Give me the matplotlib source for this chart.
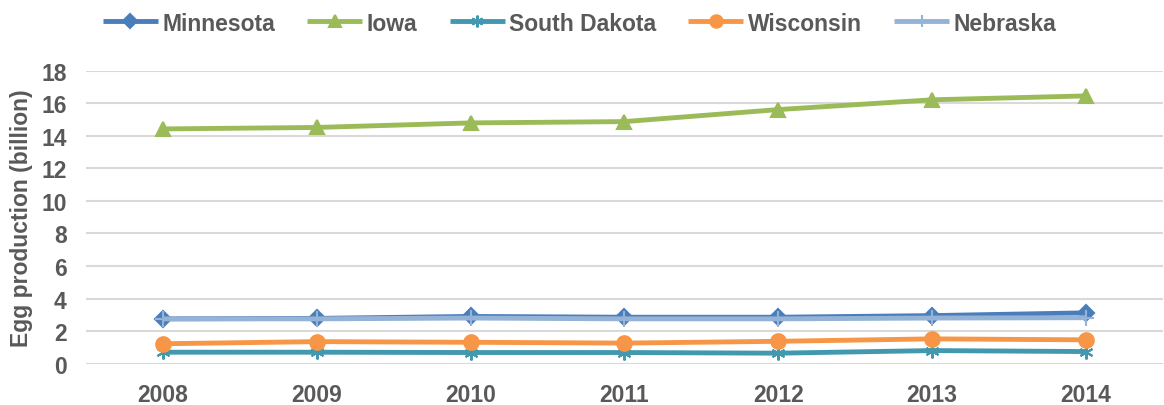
import numpy as np
import matplotlib.pyplot as plt

# data (billion eggs)
years = ["2008", "2009", "2010", "2011", "2012", "2013", "2014"]
minnesota = [2.75, 2.78, 2.90, 2.85, 2.85, 2.95, 3.12]
iowa = [14.43, 14.52, 14.80, 14.88, 15.62, 16.22, 16.46]
south_dakota = [0.70, 0.70, 0.68, 0.68, 0.64, 0.80, 0.74]
wisconsin = [1.22, 1.35, 1.31, 1.26, 1.37, 1.52, 1.46]
nebraska = [2.75, 2.75, 2.80, 2.75, 2.75, 2.80, 2.82]

plt.rcParams['font.family'] = ['Liberation Sans', 'DejaVu Sans']
grey = "#595959"

fig = plt.figure(figsize=(11.64, 4.06), dpi=100)
ax = fig.add_axes([0.074, 0.102, 0.925, 0.721])

x = np.arange(len(years))

series = [
    ("Minnesota", minnesota, "#4A7EBB", "D", 8.5),
    ("Iowa", iowa, "#9BBB59", "^", 9.5),
    ("South Dakota", south_dakota, "#4198AF", (6, 2, 0), 10),
    ("Wisconsin", wisconsin, "#F79646", "o", 10.5),
    ("Nebraska", nebraska, "#95B3D7", "+", 11),
]

for name, vals, col, mk, ms in series:
    ax.plot(x, vals, color=col, lw=3.5, marker=mk, markersize=ms,
            markeredgecolor=col, markerfacecolor=col, markeredgewidth=1.5,
            label=name, solid_capstyle="butt")

ax.set_xlim(-0.5, len(years) - 0.5)
ax.set_ylim(0, 18)
ax.set_yticks(range(0, 19, 2))
ax.set_xticks(x)
ax.set_xticklabels(years)
ax.grid(axis="y", color="#D9D9D9", lw=1.5)
ax.set_axisbelow(True)
for s in ax.spines.values():
    s.set_visible(False)
ax.tick_params(length=0, labelsize=16.5, labelcolor=grey)
ax.tick_params(axis="y", pad=14)
ax.tick_params(axis="x", pad=14)
for lab in ax.get_xticklabels() + ax.get_yticklabels():
    lab.set_fontweight("bold")

ax.set_ylabel("Egg production (billion)", fontsize=16.5, fontweight="bold",
              color=grey, labelpad=6)

leg = fig.legend(loc="upper center", bbox_to_anchor=(0.498, 1.02), ncol=5,
                 frameon=False, handlelength=2.4, handletextpad=0.2,
                 columnspacing=1.4, markerscale=0.85,
                 prop={"size": 16.5, "weight": "bold"})
for t in leg.get_texts():
    t.set_color(grey)

fig.savefig("out.png", dpi=100)
